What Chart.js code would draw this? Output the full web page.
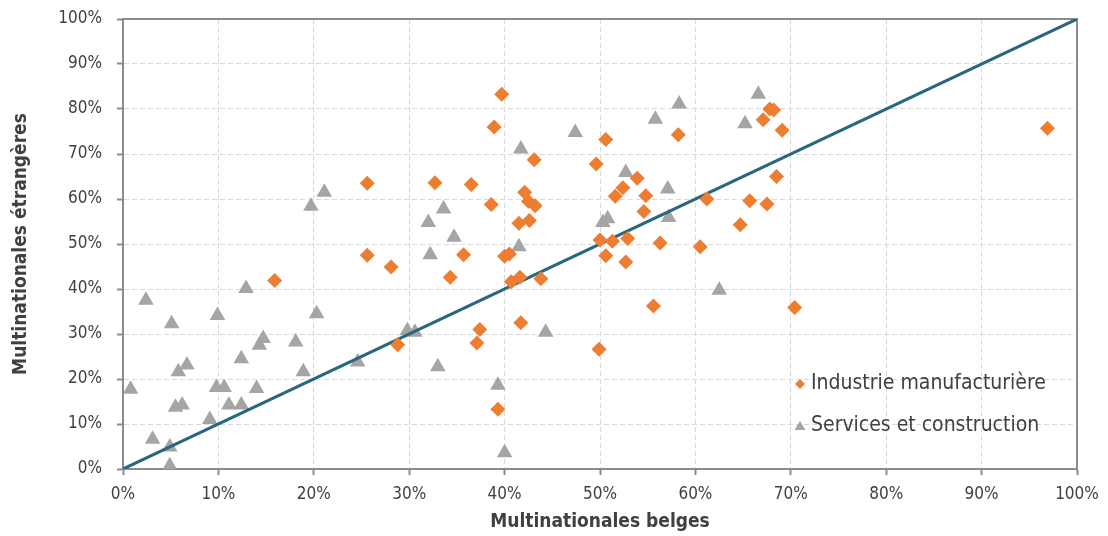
<!DOCTYPE html>
<html><head><meta charset="utf-8">
<script src="https://cdn.jsdelivr.net/npm/chart.js@4.4.1/dist/chart.umd.min.js"></script>
<style>html,body{margin:0;padding:0;background:#fff}#wrap{width:1108px;height:536px;position:relative}</style>
</head><body><div id="wrap"><canvas id="c"></canvas></div>
<script>
const seriesNames = ['Industrie manufacturière', 'Services et construction'];
const xTitle = 'Multinationales belges';
const yTitle = 'Multinationales étrangères';
const tickValues = [0, 10, 20, 30, 40, 50, 60, 70, 80, 90, 100];

const manufX = [15.9, 25.6, 25.6, 28.1, 28.8, 32.7, 34.3, 35.7, 36.5, 37.4, 37.1, 38.6, 38.9, 39.7, 39.3, 40.0, 40.5, 40.7, 41.6, 41.5, 41.7, 42.1, 42.5, 42.6, 43.2, 43.1, 43.8, 49.6, 49.9, 50.0, 50.6, 50.6, 51.3, 51.6, 52.4, 52.7, 52.9, 53.9, 54.8, 54.6, 55.6, 56.3, 58.2, 61.2, 60.5, 64.7, 65.7, 67.1, 67.8, 68.2, 67.5, 68.5, 69.1, 70.4, 96.9];
const manufY = [41.9, 63.5, 47.5, 44.9, 27.6, 63.6, 42.6, 47.6, 63.2, 31.0, 28.0, 58.8, 76.0, 83.3, 13.3, 47.3, 47.8, 41.6, 42.6, 54.6, 32.5, 61.5, 59.5, 55.2, 58.5, 68.7, 42.3, 67.8, 26.6, 50.9, 73.2, 47.4, 50.6, 60.6, 62.5, 46.0, 51.2, 64.6, 60.7, 57.2, 36.2, 50.2, 74.3, 60.0, 49.4, 54.3, 59.6, 77.6, 80.0, 79.8, 58.9, 65.0, 75.3, 35.9, 75.7];

const servX = [0.8, 2.4, 3.1, 4.9, 4.9, 5.1, 5.5, 5.8, 6.2, 6.7, 9.1, 9.8, 9.9, 10.6, 11.1, 12.4, 12.4, 12.9, 14.0, 14.3, 14.7, 18.1, 18.9, 19.7, 20.3, 21.1, 24.6, 29.8, 30.6, 32.0, 32.2, 33.0, 33.6, 34.7, 39.3, 40.0, 41.5, 41.7, 44.3, 47.4, 50.3, 50.8, 52.7, 55.8, 57.1, 57.2, 58.3, 62.5, 65.2, 66.6];
const servY = [17.7, 37.5, 6.6, 4.9, 0.7, 32.3, 13.7, 21.6, 14.2, 23.1, 11.0, 18.1, 34.1, 18.1, 14.2, 14.2, 24.5, 40.1, 17.9, 27.5, 29.0, 28.2, 21.6, 58.4, 34.5, 61.5, 23.8, 30.7, 30.4, 54.8, 47.6, 22.7, 57.8, 51.5, 18.6, 3.6, 49.4, 71.1, 30.4, 74.8, 54.8, 55.6, 65.9, 77.7, 62.2, 55.9, 81.1, 39.7, 76.7, 83.3];

const diagX = [0, 100];
const diagY = [0, 100];

const FONT = '"DejaVu Sans Condensed", "Liberation Sans", sans-serif';
const TEXT = '#404040';
const AXIS = '#8c8c8c';
const GRID = '#d9d9d9';
const ORANGE = '#ED7D31';
const GREY = '#A5A5A5';
const TEAL = '#28687E';

const toPts = (xs, ys) => xs.map((x, i) => ({x: x, y: ys[i]}));

const framePlugin = {
  id: 'frame',
  beforeDatasetsDraw(chart) {
    const {ctx, chartArea: a} = chart;
    ctx.save();
    ctx.strokeStyle = AXIS;
    ctx.lineWidth = 2;
    ctx.beginPath();
    ctx.moveTo(a.left, a.top);
    ctx.lineTo(a.right, a.top);
    ctx.lineTo(a.right, a.bottom);
    ctx.stroke();
    ctx.restore();
  }
};

const legendPlugin = {
  id: 'inlegend',
  afterDatasetsDraw(chart) {
    const ctx = chart.ctx;
    const mx = 800, rows = [384, 426], tx = 811;
    ctx.save();
    ctx.font = '21px ' + FONT;
    ctx.textBaseline = 'middle';
    ctx.textAlign = 'left';
    ctx.fillStyle = ORANGE;
    ctx.beginPath();
    ctx.moveTo(mx, rows[0] - 5); ctx.lineTo(mx + 5, rows[0]); ctx.lineTo(mx, rows[0] + 5); ctx.lineTo(mx - 5, rows[0]);
    ctx.closePath(); ctx.fill();
    ctx.fillStyle = GREY;
    ctx.beginPath();
    ctx.moveTo(mx, rows[1] - 5); ctx.lineTo(mx + 5.5, rows[1] + 4); ctx.lineTo(mx - 5.5, rows[1] + 4);
    ctx.closePath(); ctx.fill();
    ctx.fillStyle = TEXT;
    ctx.fillText(seriesNames[0], tx, rows[0]);
    ctx.fillText(seriesNames[1], tx, rows[1]);
    ctx.restore();
  }
};

const axisCommon = (title, isY) => ({
  type: 'linear',
  min: 0, max: 100,
  afterBuildTicks: s => { s.ticks = tickValues.map(v => ({value: v})); },
  ticks: {
    color: TEXT,
    font: {family: FONT, size: 17},
    padding: isY ? 15 : 9,
    callback: v => v + '%'
  },
  grid: {
    color: GRID,
    lineWidth: 1,
    tickLength: 6,
    tickColor: AXIS,
    tickWidth: 2,
    drawOnChartArea: true
  },
  border: { display: true, color: AXIS, width: 2, dash: [5, 3] },
  title: {
    display: true, text: title, color: TEXT,
    font: {family: FONT, size: 19, weight: 'bold'},
    padding: isY ? {top: 10, bottom: 0} : {top: 0, bottom: 3}
  },
  afterFit: s => {
    if (isY) { s.width = 123; s.paddingTop = 0; s.paddingBottom = 0; }
    else { s.height = 67; s.paddingLeft = 0; s.paddingRight = 0; }
  }
});

new Chart(document.getElementById('c'), {
  data: {
    datasets: [
      {
        type: 'scatter', label: seriesNames[0], data: toPts(manufX, manufY),
        pointStyle: 'rectRot', pointRadius: 7.5, pointHoverRadius: 7.5,
        backgroundColor: ORANGE, borderColor: ORANGE, borderWidth: 0, order: 1
      },
      {
        type: 'line', label: 'diag', data: toPts(diagX, diagY),
        borderColor: TEAL, borderWidth: 3, pointRadius: 0, fill: false, order: 2
      },
      {
        type: 'scatter', label: seriesNames[1], data: toPts(servX, servY),
        pointStyle: 'triangle', pointRadius: 9, pointHoverRadius: 9,
        backgroundColor: GREY, borderColor: GREY, borderWidth: 0, order: 3
      }
    ]
  },
  options: {
    responsive: true, maintainAspectRatio: false, animation: false,
    devicePixelRatio: 1,
    layout: {padding: {top: 19, right: 31, bottom: 0, left: 0}},
    plugins: {legend: {display: false}, tooltip: {enabled: false}},
    scales: { x: axisCommon(xTitle, false), y: axisCommon(yTitle, true) }
  },
  plugins: [framePlugin, legendPlugin]
});
</script></body></html>
